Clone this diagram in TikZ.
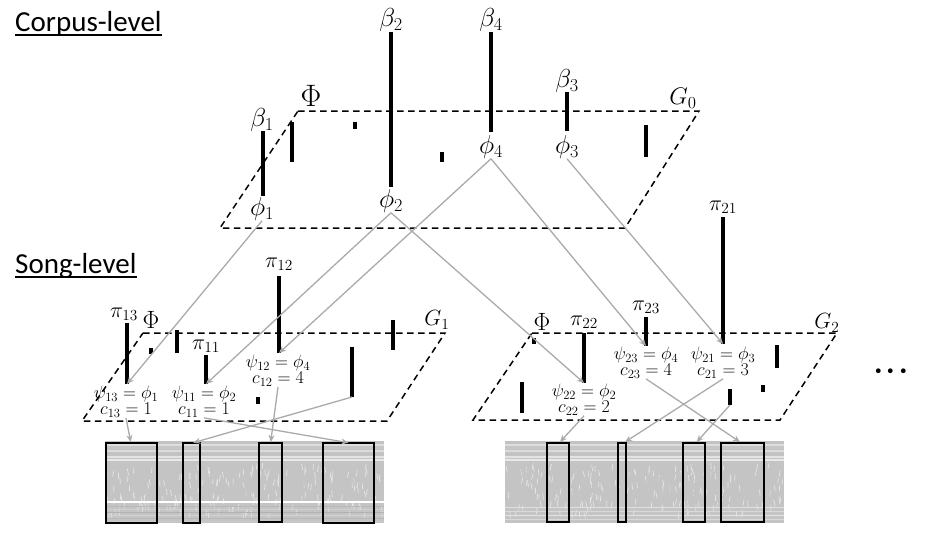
\RequirePackage{fix-cm}
\documentclass[tikz,border=0pt]{standalone}
\usepackage{fontspec}
\newfontfamily\calib{Carlito}
\usetikzlibrary{arrows.meta}
\definecolor{arrowgray}{RGB}{170,170,170}
\definecolor{specgray}{RGB}{196,196,196}
\tikzset{
  plane/.style={line width=1.5pt, dash pattern=on 6.5pt off 4.5pt},
  stick/.style={line width=3.8pt},
  gline/.style={draw=arrowgray, line width=1.3pt},
  garrow/.style={gline, -{Stealth[length=7pt,width=6pt]}},
  biglab/.style={inner sep=0pt, font=\fontsize{26}{29}\selectfont},
  glab/.style={inner sep=0pt, font=\fontsize{22}{25}\selectfont},
  pilab/.style={inner sep=0pt, font=\fontsize{22}{25}\selectfont},
  psilab/.style={inner sep=0pt, align=center, font=\fontsize{18}{15}\selectfont},
  philab/.style={inner sep=0pt, font=\fontsize{31}{34}\selectfont},
  phismall/.style={inner sep=0pt, font=\fontsize{25}{28}\selectfont},
  title/.style={inner sep=0pt, anchor=base west, font=\calib\fontsize{29}{32}\selectfont},
  specbox/.style={draw=black, line width=1.8pt},
}
\newcommand{\drawspec}[3]{%
  \fill[specgray] (#1,441) rectangle (#2,523);
  \foreach \yy/\cc in {442/gray!48,445/gray!26,448/gray!45,451/gray!28,454/gray!48,457/gray!22,460/gray!18}
    \draw[\cc, line width=1.2pt] (#1,\yy) -- (#2,\yy);
  \pgfmathsetseed{#3}
  \foreach \k in {1,...,380}{
    \pgfmathsetmacro\rx{#1+1+rnd*(#2-#1-2)}
    \pgfmathsetmacro\ry{463+rnd*50}
    \pgfmathsetmacro\rs{rnd*3-1.5}
    \pgfmathsetmacro\rc{rnd<0.5 ? 45 : 20}
    \draw[gray!\rc, line width=0.7pt] (\rx,\ry) -- ++(\rs,6);
  }
}
\begin{document}
\begin{tikzpicture}[x=1pt,y=-1pt]
\useasboundingbox (0,0) rectangle (936,542);

% titles
\node[title] (t1) at (15,31) {Corpus-level};
\draw[line width=1.6pt] ([yshift=-4pt]t1.base west) -- ([yshift=-4pt]t1.base east);
\node[title] (t2) at (15,273) {Song-level};
\draw[line width=1.6pt] ([yshift=-4pt]t2.base west) -- ([yshift=-4pt]t2.base east);

% spectrograms
\drawspec{105}{384}{7}
\draw[white, line width=1.5pt] (105,502) -- (384,502);
\foreach \yy/\cc in {506/gray!55,509/gray!38,512/gray!60,515/gray!35,518/gray!55,521/gray!42}
  \draw[\cc, line width=1pt] (105,\yy) -- (384,\yy);
\drawspec{505}{784}{11}
\foreach \yy/\cc in {507/gray!24,511/gray!30,515/gray!22,519/gray!30}
  \draw[\cc, line width=1pt] (505,\yy) -- (784,\yy);

\draw[specbox] (105.7,442.7) rectangle (157.3,522.7);
\draw[specbox] (182.7,442.7) rectangle (200,522.7);
\draw[specbox] (259.3,442.7) rectangle (282,522);
\draw[specbox] (323.3,442.7) rectangle (374.3,522.7);
\draw[specbox] (546.7,442.7) rectangle (569.3,522);
\draw[specbox] (618.3,442.7) rectangle (626,522);
\draw[specbox] (683.3,442.7) rectangle (705.3,522);
\draw[specbox] (720.7,442.7) rectangle (764,522);
\coordinate (L1) at (130.7,442);
\coordinate (L2) at (193.3,442.7);
\coordinate (L3) at (270.7,442);
\coordinate (L4) at (348.3,442.7);
\coordinate (R1) at (560,442);
\coordinate (R2) at (625,442);
\coordinate (R3) at (696.7,442);
\coordinate (R4) at (740,442);

% ---------- corpus level ----------
\draw[plane] (298,111) -- (699,111) -- (625,228) -- (220,228) -- cycle;
\node[philab] (Phi0) at (311,96) {$\Phi$};
\node[inner sep=0pt, font=\fontsize{24}{27}\selectfont] (G0) at (683,98) {$G_0$};

\node[biglab] (b1) at (262,120) {$\beta_1$};
\draw[stick] (262.7,131) -- (262.7,196);
\node[biglab] (phi1) at (262,209) {$\phi_1$};
\draw[stick] (292,122) -- (292,162);
\draw[stick] (355,122) -- (355,128.5);
\node[biglab] (b2) at (391,20) {$\beta_2$};
\draw[stick] (391,32) -- (391,187);
\node[biglab] (phi2) at (391,201) {$\phi_2$};
\draw[stick] (442,152) -- (442,162);
\node[biglab] (b4) at (491,20) {$\beta_4$};
\draw[stick] (491,32) -- (491,132);
\node[biglab] (phi4) at (491,147) {$\phi_4$};
\node[biglab] (b3) at (567,81) {$\beta_3$};
\draw[stick] (567,92) -- (567,131);
\node[biglab] (phi3) at (567,147) {$\phi_3$};
\draw[stick] (646,125) -- (646,157);

% ---------- song level 1 ----------
\draw[plane] (143,333) -- (445,333) -- (387,421) -- (82,421) -- cycle;
\node[phismall] (Phi1) at (151,320) {$\Phi$};
\node[glab] (G1) at (437,320) {$G_1$};
\node[pilab] (p13) at (124,314) {$\pi_{13}$};
\draw[stick] (127,323) -- (127,384) coordinate (s13);
\draw[stick] (151,348) -- (151,354);
\draw[stick] (177,330) -- (177,353);
\node[pilab] (p11) at (206,346) {$\pi_{11}$};
\draw[stick] (206,355) -- (206,384) coordinate (s11);
\node[pilab] (p12) at (279,264) {$\pi_{12}$};
\draw[stick] (279,276) -- (279,353) coordinate (s12);
\draw[stick] (352,347) -- (352,397) coordinate (s1a);
\draw[stick] (393,320) -- (393,350);
\draw[stick] (258,397) -- (258,404);
\node[psilab] (pc13) at (126,402) {$\psi_{13}=\phi_1$\\$c_{13}=1$};
\node[psilab] (pc11) at (204,402) {$\psi_{11}=\phi_2$\\$c_{11}=1$};
\node[psilab] (pc12) at (278,371) {$\psi_{12}=\phi_4$\\$c_{12}=4$};

% ---------- song level 2 ----------
\draw[plane] (532,333) -- (837,333) -- (780,420) -- (473,420) -- cycle;
\node[phismall] (Phi2) at (542,322) {$\Phi$};
\node[glab] (G2) at (827,323) {$G_2$};
\draw[stick] (534,338) -- (534,344);
\node[pilab] (p22) at (584,322) {$\pi_{22}$};
\draw[stick] (584,333) -- (584,383) coordinate (s22);
\node[pilab] (p23) at (646,307) {$\pi_{23}$};
\draw[stick] (646,317) -- (646,346) coordinate (s23);
\node[pilab] (p21) at (723,207) {$\pi_{21}$};
\draw[stick] (723,217) -- (723,344) coordinate (s21);
\draw[stick] (777,345) -- (777,368);
\draw[stick] (522,382) -- (522,413);
\draw[stick] (730,389) -- (730,405) coordinate (s2a);
\draw[stick] (763,385) -- (763,392);
\node[psilab] (pc23) at (646,363) {$\psi_{23}=\phi_4$\\$c_{23}=4$};
\node[psilab] (pc21) at (723,363) {$\psi_{21}=\phi_3$\\$c_{21}=3$};
\node[psilab] (pc22) at (584,400) {$\psi_{22}=\phi_2$\\$c_{22}=2$};
\node[inner sep=0pt, font=\fontsize{45}{48}\selectfont] (dots) at (891,372) {$\mathord{\cdot}\mathord{\cdot}\mathord{\cdot}$};

% ---------- grey connectors ----------
\draw[garrow] (phi1.south) -- (s13);
\draw[garrow] (phi2.south) -- (s11);
\draw[garrow] (phi2.south) -- (s22);
\draw[garrow] (phi4.south) -- (s12);
\draw[garrow] (phi4.south) -- (s23);
\draw[garrow] (phi3.south) -- (s21);

\draw[garrow] (pc13.south) -- (L1);
\draw[garrow] (pc11.south) -- (L4);
\draw[garrow] (pc12.south) -- (L3);
\draw[garrow] (s1a) -- (L2);
\draw[garrow] (pc22.south) -- (R1);
\draw[garrow] (pc21.south) -- (R2);
\draw[garrow] (pc23.south) -- (R4);
\draw[garrow] (s2a) -- (R3);
\end{tikzpicture}
\end{document}
